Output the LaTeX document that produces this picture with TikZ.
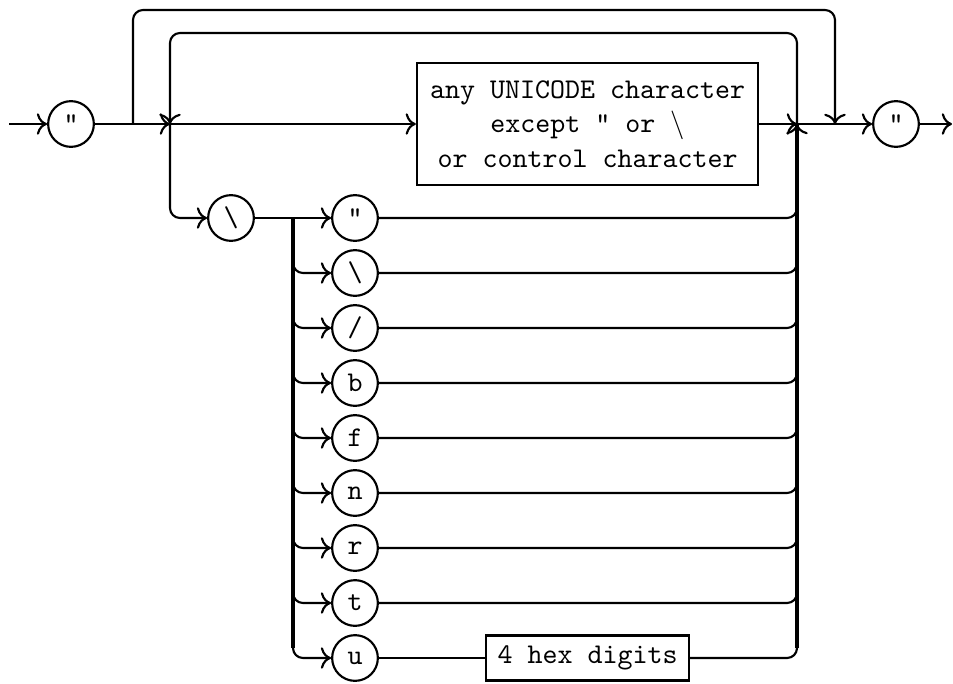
\documentclass[tikz,border=0pt]{standalone}
\usetikzlibrary{calc,arrows.meta}
\begin{document}
\begin{tikzpicture}[x=0.35pt,y=-0.35pt,line width=0.75pt,>={To[scale=1.1]},
  term/.style={draw,circle,minimum size=16pt,inner sep=0pt,font=\ttfamily},
  nonterm/.style={draw,rectangle,inner sep=0pt,font=\ttfamily,align=center},
  rail/.style={rounded corners=3.5pt},
  bus/.style={line width=1.2pt}]
\useasboundingbox (0,0) rectangle (953,684);

% main line
\coordinate (in) at (9,124);
\node[term] (q1) at (71,124) {"};
\coordinate (j1) at (133,124);
\coordinate (j2) at (170,124);
\node[nonterm,minimum width=119.4pt,minimum height=42.7pt] (chr) at (587.5,124)
  {any UNICODE character\\except " or $\backslash$\\or control character};
\coordinate (j3) at (797,124);
\coordinate (j4) at (835,124);
\node[term] (q2) at (896,124) {"};
\coordinate (out) at (952,124);

\draw[->] (in) -- (q1.west);
\draw[->] (q1.east) -- (j2);
\draw[->] (j2) -- (chr.west);
\draw[->] (chr.east) -- (j3);
\draw[->] (j3) -- (q2.west);
\draw[->] (q2.east) -- (out);

% empty string bypass and repetition loop
\coordinate (ot) at (835,10);
\coordinate (it) at (170,33);
\draw[rail,->] (j1) |- (ot) -- (j4);
\draw[rail,->] (j3) |- (it) -- (j2);

% escape sequences
\node[term] (bs) at (231,218) {\textbackslash};
\draw[rail,->] (j2) |- (bs.west);

\foreach \lbl [count=\i] in {{"},{\textbackslash},{/},b,f,n,r,t,u}
  \node[term] (c\i) at (355,{163+55*\i}) {\lbl};

% the two vertical buses stop where the last rounded corner begins
\coordinate (lb) at (293,218);
\coordinate (lbb) at (293,648);
\coordinate (rbb) at (797,648);
\draw[bus] (lb) -- (lbb);
\draw[bus] (rbb) -- (j3);
\draw (bs.east) -- (lb);
\draw[->] (lb) -- (c1.west);
\foreach \i in {2,...,9}
  \draw[rail,->] (lb) |- (c\i.west);
\foreach \i in {1,...,8}
  \draw[rail] (c\i.east) -| (j3);

\node[nonterm,minimum width=71pt,minimum height=15.75pt] (hex) at (587.5,658) {4 hex digits};
\draw (c9.east) -- (hex.west);
\draw[rail] (hex.east) -| (j3);
\draw[->] (rbb) -- (j3);
\end{tikzpicture}
\end{document}
